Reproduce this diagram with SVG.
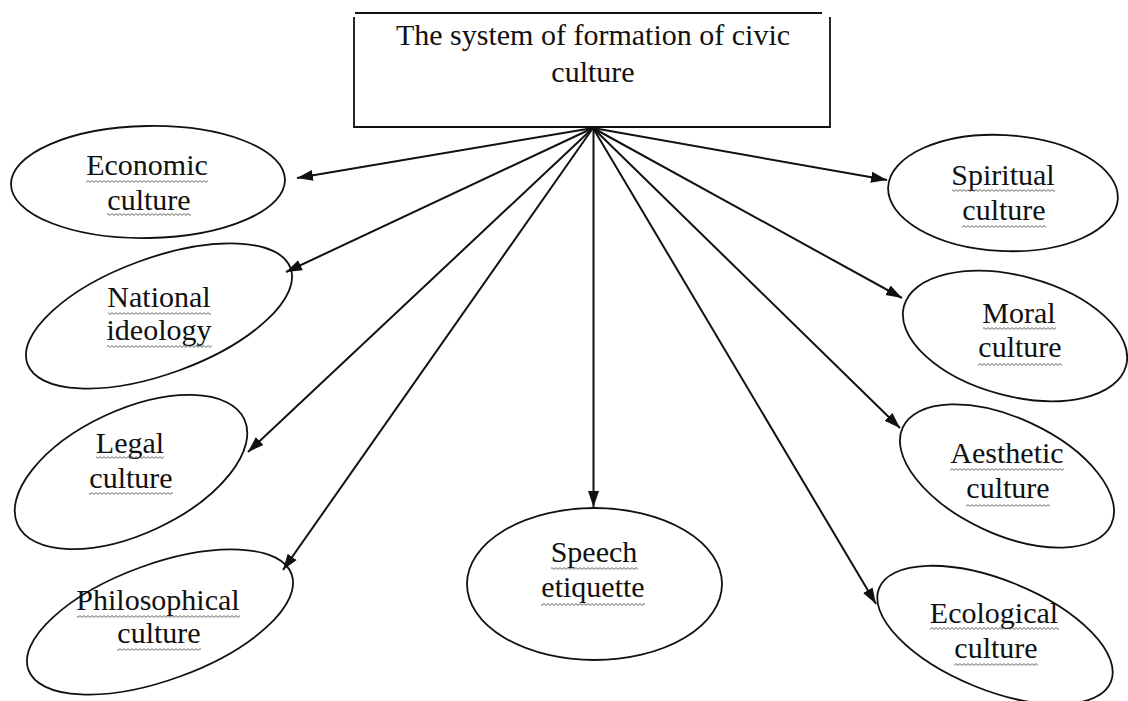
<svg xmlns="http://www.w3.org/2000/svg" width="1128" height="701" viewBox="0 0 1128 701">
<defs>
<style>
.t{font-family:"Liberation Serif","Times New Roman",serif;font-size:30px;fill:#111;text-anchor:middle}
.e{fill:none;stroke:#111;stroke-width:1.8}
.c line{stroke:#111;stroke-width:2;marker-end:url(#ah)}
.w{fill:url(#wave)}
</style>
<marker id="ah" markerWidth="17" markerHeight="12" refX="16" refY="6" orient="auto" markerUnits="userSpaceOnUse">
<path d="M0,0.5 L16,6 L0,11.5 Z" fill="#111"/>
</marker>
<pattern id="wave" width="4" height="3" patternUnits="userSpaceOnUse">
<path d="M0,0.6 L2,2.4 L4,0.6" fill="none" stroke="#555" stroke-width="0.9"/>
</pattern>
</defs>
<rect width="1128" height="701" fill="#fff"/>

<g id="root">
<line x1="355" y1="13" x2="822" y2="13" stroke="#111" stroke-width="1.8"/>
<path d="M354,17 V127 H830 V17" fill="none" stroke="#111" stroke-width="1.8"/>
<text class="t" x="593" y="45">The system of formation of civic</text>
<text class="t" x="593" y="82">culture</text>
</g>

<g id="connectors" class="c">
<line x1="593" y1="128" x2="297" y2="178"/>
<line x1="593" y1="128" x2="286" y2="272"/>
<line x1="593" y1="128" x2="248" y2="452"/>
<line x1="593" y1="128" x2="283" y2="570"/>
<line x1="593.5" y1="128" x2="593.5" y2="507"/>
<line x1="593" y1="128" x2="887" y2="180"/>
<line x1="593" y1="128" x2="902" y2="298"/>
<line x1="593" y1="128" x2="900" y2="428"/>
<line x1="593" y1="128" x2="876" y2="604"/>
</g>

<g id="economic">
<ellipse class="e" cx="148" cy="182" rx="137" ry="56" transform="rotate(-1 148 182)"/>
<text class="t" x="147" y="175">Economic</text>
<text class="t" x="149" y="210">culture</text>
<rect class="w" x="86" y="180" width="122" height="3"/>
<rect class="w" x="107" y="213" width="84" height="3"/>
</g>

<g id="national">
<ellipse class="e" cx="159" cy="316" rx="140" ry="58" transform="rotate(-20 159 316)"/>
<text class="t" x="159" y="307">National</text>
<text class="t" x="159" y="340">ideology</text>
<rect class="w" x="108" y="312" width="103" height="3"/>
<rect class="w" x="107" y="345" width="105" height="3"/>
</g>

<g id="legal">
<ellipse class="e" cx="131" cy="472" rx="125" ry="62" transform="rotate(-25 131 472)"/>
<text class="t" x="130" y="453">Legal</text>
<text class="t" x="131" y="488">culture</text>
<rect class="w" x="96" y="456" width="68" height="3"/>
<rect class="w" x="89" y="492" width="84" height="3"/>
</g>

<g id="philosophical">
<ellipse class="e" cx="160" cy="622" rx="140" ry="58" transform="rotate(-20 160 622)"/>
<text class="t" x="158" y="610">Philosophical</text>
<text class="t" x="159" y="643">culture</text>
<rect class="w" x="77" y="615" width="163" height="3"/>
<rect class="w" x="117" y="648" width="84" height="3"/>
</g>

<g id="speech">
<ellipse class="e" cx="594.5" cy="584" rx="127.5" ry="76"/>
<text class="t" x="594" y="562">Speech</text>
<text class="t" x="593" y="597">etiquette</text>
<rect class="w" x="551" y="567" width="87" height="3"/>
<rect class="w" x="541" y="603" width="104" height="3"/>
</g>

<g id="spiritual">
<ellipse class="e" cx="1003" cy="193" rx="115" ry="58" transform="rotate(3 1003 193)"/>
<text class="t" x="1003" y="185">Spiritual</text>
<text class="t" x="1004" y="220">culture</text>
<rect class="w" x="952" y="189" width="103" height="3"/>
<rect class="w" x="962" y="225" width="84" height="3"/>
</g>

<g id="moral">
<ellipse class="e" cx="1015" cy="336" rx="115" ry="60" transform="rotate(15 1015 336)"/>
<text class="t" x="1019" y="323">Moral</text>
<text class="t" x="1020" y="357">culture</text>
<rect class="w" x="983" y="327" width="73" height="3"/>
<rect class="w" x="978" y="363" width="84" height="3"/>
</g>

<g id="aesthetic">
<ellipse class="e" cx="1007" cy="476" rx="115" ry="58" transform="rotate(25 1007 476)"/>
<text class="t" x="1007" y="463">Aesthetic</text>
<text class="t" x="1008" y="498">culture</text>
<rect class="w" x="950" y="468" width="114" height="3"/>
<rect class="w" x="966" y="504" width="84" height="3"/>
</g>

<g id="ecological">
<ellipse class="e" cx="995" cy="635" rx="125" ry="55" transform="rotate(22 995 635)"/>
<text class="t" x="994" y="623">Ecological</text>
<text class="t" x="996" y="658">culture</text>
<rect class="w" x="930" y="627" width="129" height="3"/>
<rect class="w" x="954" y="663" width="84" height="3"/>
</g>
</svg>
